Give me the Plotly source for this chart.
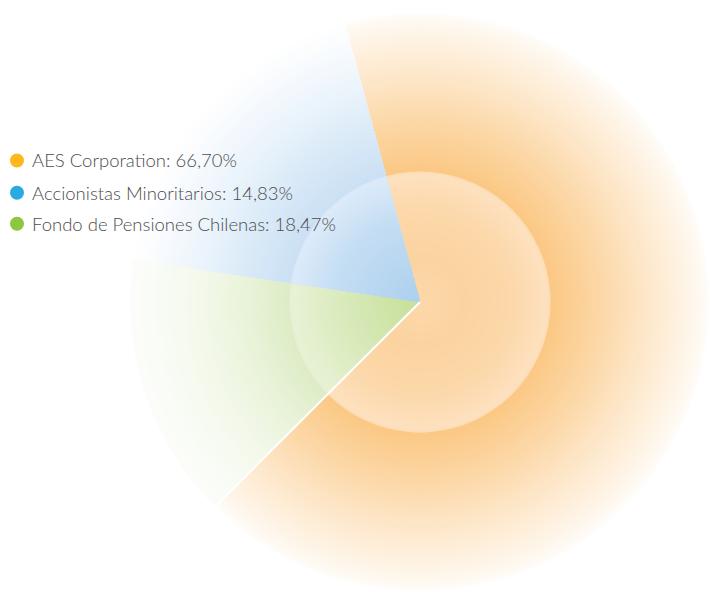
import numpy as np
import plotly.graph_objects as go

# ---- data ----
labels = ["AES Corporation", "Accionistas Minoritarios", "Fondo de Pensiones Chilenas"]
values = [66.70, 14.83, 18.47]
value_text = ["66,70%", "14,83%", "18,47%"]
legend_colors = ["#FDB81E", "#29AAE1", "#8DC63F"]

# ---- style: radial colour stops per wedge (t = radius fraction) ----
# wedges drawn clockwise in data order: AES (orange), Accionistas (green), Fondo (blue)
stops = [
    # orange
    ([0.0, 0.15, 0.30, 0.446, 0.449, 0.62, 0.76, 0.90, 0.98, 1.0],
     [(252, 216, 170), (251, 211, 160), (252, 215, 168), (253, 225, 192),
      (251, 200, 132), (252, 215, 166), (253, 229, 197), (254, 242, 226),
      (254, 250, 244), (255, 255, 255)]),
    # green
    ([0.0, 0.20, 0.446, 0.449, 0.60, 0.75, 0.93, 1.0],
     [(198, 224, 152), (212, 231, 178), (232, 242, 214), (221, 236, 198),
      (233, 243, 217), (243, 248, 234), (250, 252, 247), (252, 253, 250)]),
    # blue
    ([0.0, 0.29, 0.446, 0.449, 0.60, 0.75, 0.90, 1.0],
     [(172, 208, 238), (196, 221, 243), (221, 235, 249), (203, 224, 244),
      (217, 233, 247), (233, 243, 251), (247, 250, 254), (255, 255, 255)]),
]
rmax = [1.0, 1.0, 1.0]
start_angle = -15.1   # degrees clockwise from 12 o'clock
N = 140

fig = go.Figure()
total = sum(values)
cum = np.cumsum([0] + values)
for i, v in enumerate(values):
    width = 360 * v / total
    center = start_angle + 360 * (cum[i] + v / 2) / total
    edges = np.linspace(0, rmax[i], N + 1)[1:][::-1]          # largest first
    mids = edges - rmax[i] / N / 2
    ts, cs = stops[i]
    cs = np.array(cs, dtype=float)
    cols = []
    for m in mids:
        rgb = [np.interp(m, ts, cs[:, c]) for c in range(3)]
        cols.append("rgb({:.0f},{:.0f},{:.0f})".format(*rgb))
    fig.add_trace(go.Barpolar(
        r=edges, base=0, theta=[center] * N, width=[width] * N,
        marker=dict(color=cols, line=dict(width=0)),
        hoverinfo="skip", showlegend=False))

# white border between AES and Accionistas wedges
b_angle = start_angle + 360 * cum[1] / total
fig.add_trace(go.Scatterpolar(
    r=[0, 1.02], theta=[b_angle, b_angle], mode="lines",
    line=dict(color="white", width=2), hoverinfo="skip", showlegend=False))

W_PX, H_PX = 710, 595
cx, cy, R = 420, 302, 290
fig.update_layout(
    width=W_PX, height=H_PX,
    margin=dict(l=0, r=0, t=0, b=0),
    paper_bgcolor="white", plot_bgcolor="white",
    showlegend=False,
    polar=dict(
        domain=dict(x=[(cx - R) / W_PX, (cx + R) / W_PX],
                    y=[1 - (cy + R) / H_PX, 1 - (cy - R) / H_PX]),
        bgcolor="rgba(0,0,0,0)",
        barmode="overlay",
        radialaxis=dict(range=[0, 1.0], visible=False),
        angularaxis=dict(rotation=90, direction="clockwise", visible=False),
    ),
)

# legend drawn as dots + text
leg_y = [160.5, 192.8, 223.8]
for lab, txt, col, y in zip(labels, value_text, legend_colors, leg_y):
    fig.add_shape(type="circle", xref="paper", yref="paper",
                  x0=(17 - 7) / W_PX, x1=(17 + 7) / W_PX,
                  y0=1 - (y + 7) / H_PX, y1=1 - (y - 7) / H_PX,
                  fillcolor=col, line=dict(width=0))
    fig.add_annotation(xref="paper", yref="paper", x=30 / W_PX, y=1 - y / H_PX,
                       xanchor="left", yanchor="middle", showarrow=False,
                       text=f"{lab}: {txt}",
                       font=dict(family="Lato", size=18.5, color="#4d4d4d", weight=300))

fig.write_html("out.html", config={"displayModeBar": False},
               post_script="document.body.style.margin='0px';")
